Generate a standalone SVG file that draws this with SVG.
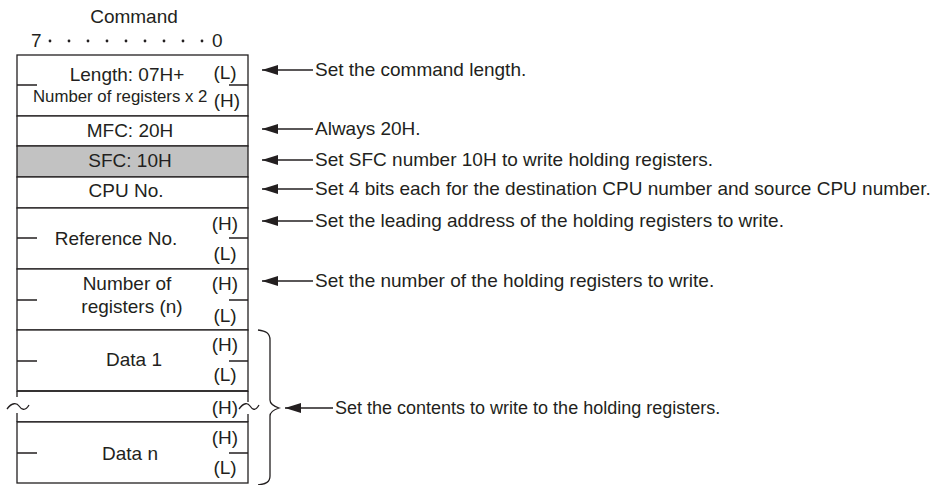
<svg xmlns="http://www.w3.org/2000/svg" width="940" height="485" viewBox="0 0 940 485">
<defs>
<style>
text{font-family:"Liberation Sans",Arial,sans-serif;font-size:19px;fill:#231f20}
.c{text-anchor:middle}
.ln{stroke:#231f20;stroke-width:1.3;fill:none}
.box{fill:#fff;stroke:#231f20;stroke-width:1.3}
.gray{fill:#c2c2c2;stroke:#231f20;stroke-width:1.3}
</style>
<marker id="ah" viewBox="0 0 16 10" refX="16" refY="5" markerWidth="16" markerHeight="10" markerUnits="userSpaceOnUse" orient="auto">
<path d="M16,5 L0,0 L0,10 Z" fill="#231f20"/>
</marker>
</defs>
<rect width="940" height="485" fill="#fff"/>
<g id="header">
<text class="c" x="134" y="23">Command</text>
<text x="31" y="47">7</text>
<g fill="#231f20">
<circle cx="50" cy="41" r="1.4"/><circle cx="69" cy="41" r="1.4"/><circle cx="88" cy="41" r="1.4"/><circle cx="107" cy="41" r="1.4"/><circle cx="126" cy="41" r="1.4"/><circle cx="145" cy="41" r="1.4"/><circle cx="164" cy="41" r="1.4"/><circle cx="183" cy="41" r="1.4"/><circle cx="202" cy="41" r="1.4"/>
</g>
<text x="212" y="47">0</text>
</g>
<g id="length">
<rect class="box" x="17" y="55" width="231" height="61"/>
<path class="ln" d="M17,85H37M229,85H248"/>
<text class="c" x="127" y="81">Length: 07H+</text>
<text class="c" x="225" y="79">(L)</text>
<text x="33" y="102" style="font-size:16.8px">Number of registers x 2</text>
<text class="c" x="227" y="107">(H)</text>
</g>
<g id="mfc">
<rect class="box" x="17" y="116" width="231" height="30"/>
<text class="c" x="130" y="137">MFC: 20H</text>
</g>
<g id="sfc">
<rect class="gray" x="17" y="146" width="231" height="31"/>
<text class="c" x="130" y="167">SFC: 10H</text>
</g>
<g id="cpu">
<rect class="box" x="17" y="177" width="231" height="31"/>
<text class="c" x="126" y="197">CPU No.</text>
</g>
<g id="reference">
<rect class="box" x="17" y="208" width="231" height="61"/>
<path class="ln" d="M17,238H37M229,238H248"/>
<text class="c" x="116" y="245">Reference No.</text>
<text class="c" x="225" y="230">(H)</text>
<text class="c" x="225" y="260">(L)</text>
</g>
<g id="numregs">
<rect class="box" x="17" y="269" width="231" height="61"/>
<path class="ln" d="M17,300H37M229,300H248"/>
<text class="c" x="127" y="290">Number of</text>
<text class="c" x="132" y="313">registers (n)</text>
<text class="c" x="225" y="290">(H)</text>
<text class="c" x="225" y="322">(L)</text>
</g>
<g id="data1">
<rect class="box" x="17" y="330" width="231" height="61"/>
<path class="ln" d="M17,361H37M229,361H248"/>
<text class="c" x="134" y="366">Data 1</text>
<text class="c" x="225" y="351">(H)</text>
<text class="c" x="225" y="381">(L)</text>
</g>
<g id="omitted">
<path class="ln" d="M17,391H248M17,422H248M17,391V397M17,413V422M248,391V402M248,414V422"/>
<path class="ln" d="M7,409C12,402 17,403 19,406S25,412 29,405"/>
<path class="ln" d="M239,409C244,402 248,403 250,406S255,412 259,405"/>
<text class="c" x="225" y="414">(H)</text>
</g>
<g id="datan">
<rect class="box" x="17" y="422" width="231" height="61"/>
<path class="ln" d="M17,453H37M229,453H248"/>
<text class="c" x="130" y="460">Data n</text>
<text class="c" x="225" y="444">(H)</text>
<text class="c" x="225" y="474">(L)</text>
</g>
<g id="brace">
<path class="ln" d="M258,330C266,331 270,333 270,340V400C270,404 273,406 279,408C273,410 270,412 270,416V476C270,482 266,484 258,485"/>
</g>
<g id="connectors">
<path class="ln" d="M313,70H262" marker-end="url(#ah)"/>
<path class="ln" d="M313,129H262" marker-end="url(#ah)"/>
<path class="ln" d="M313,160H262" marker-end="url(#ah)"/>
<path class="ln" d="M313,189H262" marker-end="url(#ah)"/>
<path class="ln" d="M313,221H262" marker-end="url(#ah)"/>
<path class="ln" d="M313,281H262" marker-end="url(#ah)"/>
<path class="ln" d="M333,408H285" marker-end="url(#ah)"/>
</g>
<g id="notes">
<text x="315" y="76">Set the command length.</text>
<text x="315" y="135">Always 20H.</text>
<text x="315" y="166">Set SFC number 10H to write holding registers.</text>
<text x="315" y="195">Set 4 bits each for the destination CPU number and source CPU number.</text>
<text x="315" y="227">Set the leading address of the holding registers to write.</text>
<text x="315" y="287">Set the number of the holding registers to write.</text>
<text x="335" y="414" style="font-size:18px">Set the contents to write to the holding registers.</text>
</g>
</svg>
